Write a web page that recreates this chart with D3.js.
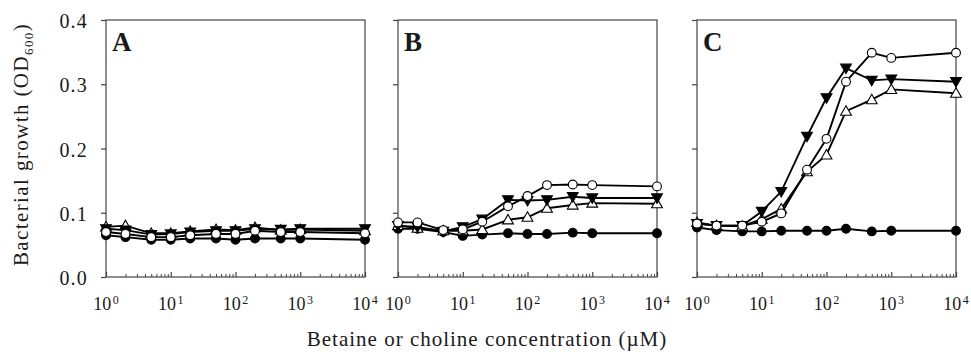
<!DOCTYPE html>
<html>
<head>
<meta charset="utf-8">
<script src="https://cdn.jsdelivr.net/npm/d3@7"></script>
<style>
  body { margin: 0; background: #fff; }
  svg { font-family: "Liberation Serif", "Times New Roman", serif; }
</style>
</head>
<body>
<div id="viz-container"></div>
<script>
// concentrations (µM)
const conc = [1, 2, 5, 10, 20, 50, 100, 200, 500, 1000, 10000];
const panelLabels = ["A", "B", "C"];
const yTicks = [0.0, 0.1, 0.2, 0.3, 0.4];
const xTicks = [1, 10, 100, 1000, 10000];

// OD600 values per panel, per series
const filledCircleA = [0.065, 0.062, 0.058, 0.058, 0.060, 0.060, 0.058, 0.060, 0.060, 0.060, 0.058];
const openCircleA   = [0.070, 0.067, 0.062, 0.062, 0.065, 0.067, 0.067, 0.072, 0.070, 0.070, 0.068];
const filledTriA    = [0.075, 0.073, 0.066, 0.067, 0.070, 0.072, 0.072, 0.075, 0.074, 0.075, 0.075];
const openTriA      = [0.078, 0.080, 0.068, 0.068, 0.071, 0.074, 0.073, 0.077, 0.073, 0.074, 0.072];

const filledCircleB = [0.075, 0.075, 0.070, 0.064, 0.066, 0.068, 0.067, 0.067, 0.069, 0.068, 0.068];
const openCircleB   = [0.085, 0.085, 0.073, 0.074, 0.086, 0.110, 0.126, 0.143, 0.144, 0.143, 0.141];
const filledTriB    = [0.080, 0.078, 0.071, 0.078, 0.090, 0.120, 0.119, 0.120, 0.125, 0.123, 0.123];
const openTriB      = [0.080, 0.076, 0.072, 0.072, 0.074, 0.089, 0.093, 0.107, 0.112, 0.115, 0.114];

const filledCircleC = [0.077, 0.073, 0.071, 0.071, 0.072, 0.072, 0.072, 0.075, 0.071, 0.072, 0.072];
const openCircleC   = [0.083, 0.080, 0.080, 0.086, 0.099, 0.167, 0.215, 0.304, 0.349, 0.341, 0.349];
const filledTriC    = [0.083, 0.080, 0.080, 0.102, 0.133, 0.219, 0.279, 0.325, 0.306, 0.308, 0.304];
const openTriC      = [0.085, 0.080, 0.079, 0.090, 0.106, 0.164, 0.190, 0.258, 0.276, 0.292, 0.286];

const panels = [
  { label: panelLabels[0], left: 106, series: [filledCircleA, openTriA, filledTriA, openCircleA] },
  { label: panelLabels[1], left: 398, series: [filledCircleB, openTriB, filledTriB, openCircleB] },
  { label: panelLabels[2], left: 697, series: [filledCircleC, openTriC, filledTriC, openCircleC] }
];
// marker style for each series, same order as above
const markers = [
  { shape: "circle", fill: "#000" },
  { shape: "up", fill: "#fff" },
  { shape: "down", fill: "#000" },
  { shape: "circle", fill: "#fff" }
];

const W = 971, H = 352;
const plotTop = 20, plotBottom = 277, pw = 259;

const svg = d3.select("#viz-container")
  .append("svg")
  .attr("width", W)
  .attr("height", H);

const y = d3.scaleLinear().domain([0, 0.4]).range([plotBottom, plotTop]);
const axisColor = "#444";
const textColor = "#1a1a1a";

function triPath(dir, s) {
  // triangle centred on 0,0
  const h = s;
  if (dir === "up") return `M0,${-h} L${s},${h * 0.75} L${-s},${h * 0.75} Z`;
  return `M0,${h} L${s},${-h * 0.75} L${-s},${-h * 0.75} Z`;
}

panels.forEach((p, pi) => {
  const x = d3.scaleLog().domain([1, 10000]).range([p.left, p.left + pw]);
  const g = svg.append("g");

  // frame
  g.append("rect")
    .attr("x", p.left).attr("y", plotTop)
    .attr("width", pw).attr("height", plotBottom - plotTop)
    .attr("fill", "none").attr("stroke", axisColor).attr("stroke-width", 1.2);

  // y ticks (outside, left)
  g.append("g")
    .attr("transform", `translate(${p.left},0)`)
    .call(d3.axisLeft(y).tickValues(yTicks).tickSize(5).tickPadding(13)
      .tickFormat(pi === 0 ? d3.format(".1f") : ""))
    .call(a => a.select(".domain").remove())
    .call(a => a.selectAll("line").attr("stroke", axisColor).attr("stroke-width", 1.2))
    .call(a => a.selectAll("text")
      .attr("font-size", "20px").attr("fill", textColor)
      .attr("font-family", "Liberation Serif")
      .attr("letter-spacing", "1.2").attr("dy", "0.38em"));

  // x ticks (inside, pointing up): majors and minors
  const minor = [];
  for (let e = 0; e < 4; e++) for (let m = 2; m <= 9; m++) minor.push(m * Math.pow(10, e));
  g.append("g")
    .attr("transform", `translate(0,${plotBottom})`)
    .call(d3.axisTop(x).tickValues(minor).tickSize(3).tickFormat(""))
    .call(a => a.select(".domain").remove())
    .call(a => a.selectAll("line").attr("stroke", axisColor).attr("stroke-width", 1));
  g.append("g")
    .attr("transform", `translate(0,${plotBottom})`)
    .call(d3.axisTop(x).tickValues(xTicks).tickSize(5).tickFormat(""))
    .call(a => a.select(".domain").remove())
    .call(a => a.selectAll("line").attr("stroke", axisColor).attr("stroke-width", 1.2));

  // x tick labels 10^n
  xTicks.forEach((t, i) => {
    const txt = g.append("text")
      .attr("x", x(t)).attr("y", 310)
      .attr("text-anchor", "middle")
      .attr("font-size", "18px").attr("fill", textColor);
    txt.append("tspan").text("10");
    txt.append("tspan").attr("dx", "1.5").attr("dy", "-6").attr("font-size", "12px").text(i);
  });

  // series
  const line = d3.line().x((d, i) => x(conc[i])).y(d => y(d));
  p.series.forEach((vals, si) => {
    const mk = markers[si];
    g.append("path")
      .datum(vals)
      .attr("fill", "none")
      .attr("stroke", "#000")
      .attr("stroke-width", 1.9)
      .attr("d", line);
    const pts = g.append("g").selectAll("g")
      .data(vals).join("g")
      .attr("transform", (d, i) => `translate(${x(conc[i])},${y(d)})`);
    if (mk.shape === "circle") {
      pts.append("circle").attr("r", 4.4)
        .attr("fill", mk.fill).attr("stroke", "#000").attr("stroke-width", 1.1);
    } else {
      pts.append("path").attr("d", triPath(mk.shape, 5.4))
        .attr("fill", mk.fill).attr("stroke", "#000").attr("stroke-width", 1.1);
    }
  });

  // panel letter
  g.append("text")
    .attr("x", p.left + 6).attr("y", 51)
    .attr("font-size", "27px").attr("font-weight", "bold")
    .attr("fill", textColor)
    .text(p.label);
});

// y axis title
const yt = svg.append("text")
  .attr("transform", `translate(28,${(plotTop + plotBottom) / 2 - 4}) rotate(-90)`)
  .attr("text-anchor", "middle")
  .attr("font-size", "21px").attr("fill", textColor)
  .attr("letter-spacing", "1.4");
yt.append("tspan").text("Bacterial growth (OD");
yt.append("tspan").attr("dy", "5").attr("font-size", "13px").text("600");
yt.append("tspan").attr("dy", "-5").text(")");

// x axis title
svg.append("text")
  .attr("x", 487).attr("y", 346)
  .attr("text-anchor", "middle")
  .attr("font-size", "21px").attr("fill", textColor)
  .attr("letter-spacing", "1")
  .text("Betaine or choline concentration (µM)");
</script>
</body>
</html>
